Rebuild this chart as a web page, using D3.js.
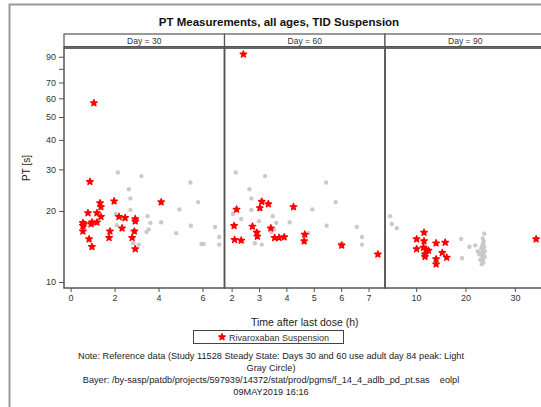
<!DOCTYPE html>
<html>
<head>
<meta charset="utf-8">
<script src="https://cdn.jsdelivr.net/npm/d3@7/dist/d3.min.js"></script>
<style>
  html, body { margin: 0; padding: 0; background: #fff; }
  svg { display: block; font-family: "Liberation Sans", Arial, sans-serif; }
  .foot { white-space: pre; }
</style>
</head>
<body>
<svg id="chart" width="541" height="407"></svg>
<script>
// ---- data ----------------------------------------------------------------
const panelLabels = ["Day = 30", "Day = 60", "Day = 90"];
const xTicks30 = [0, 2, 4, 6];
const xTicks60 = [2, 3, 4, 5, 6, 7];
const xTicks90 = [10, 20, 30];
const yTicks = [10, 20, 30, 40, 50, 60, 70, 80, 90];
const yTickLabels = ["10", "20", "30", "40", "50", "60", "70", "", "90"];

// Rivaroxaban suspension: [time after last dose (h), PT (s)]
const rivaDay30 = [
  [1.06, 57.3], [0.88, 26.6], [0.56, 17.8], [0.56, 17.3], [0.56, 16.4], [0.6, 17.6],
  [0.79, 19.6], [0.93, 17.6], [0.97, 17.9], [0.84, 15.2], [0.97, 14.1], [1.2, 19.6],
  [1.2, 17.9], [1.34, 21.6], [1.38, 20.8], [1.38, 18.9], [1.79, 16.4], [1.75, 15.4],
  [1.98, 22.0], [2.2, 18.9], [2.34, 16.9], [2.48, 18.7], [2.8, 15.4], [2.94, 18.5],
  [2.94, 18.1], [2.9, 16.4], [2.94, 13.8], [4.12, 21.8]
];
const rivaDay60 = [
  [2.43, 92.2], [2.09, 17.3], [2.18, 20.3], [2.11, 15.1], [2.35, 15.0], [2.76, 17.2],
  [2.92, 16.2], [2.94, 15.6], [3.03, 20.6], [3.1, 21.9], [3.34, 21.4], [3.43, 16.9],
  [3.57, 15.4], [3.73, 15.4], [3.92, 15.5], [4.26, 20.8], [4.67, 15.9], [4.65, 14.9],
  [6.02, 14.3], [7.34, 13.1]
];
const rivaDay90 = [
  [10.1, 15.2], [10.1, 13.8], [11.6, 16.2], [11.6, 14.9], [11.5, 14.0], [12.0, 13.7],
  [12.5, 13.6], [11.8, 13.1], [11.8, 12.8], [14.05, 14.6], [14.05, 12.5], [14.05, 11.9],
  [15.9, 14.7], [15.3, 13.3], [16.2, 12.7], [34.3, 15.2]
];

// Reference data (Study 11528 steady state), adult day 84 peak - used for days 30 and 60
const refDay84 = [
  [2.15, 29.1], [3.22, 28.1], [2.65, 24.7], [2.72, 22.6], [2.72, 20.2], [2.05, 19.4],
  [2.35, 18.5], [2.1, 17.4], [3.0, 18.1], [3.5, 19.0], [3.63, 17.8], [3.55, 16.7],
  [3.45, 16.3], [2.92, 16.4], [2.85, 14.6], [3.1, 14.4], [4.12, 17.9], [4.8, 16.1],
  [4.95, 20.3], [5.45, 26.4], [5.8, 21.8], [5.47, 17.3], [5.95, 14.5], [6.05, 14.5],
  [6.57, 17.1], [6.76, 15.5], [6.76, 14.4]
];
// Reference data used for day 90
const refDay90 = [
  [4.73, 19.0], [5.07, 17.6], [6.08, 16.9], [19.1, 15.2], [19.3, 12.6], [20.8, 14.1],
  [22.0, 14.3], [23.8, 16.0], [22.8, 13.1],
  [23.5, 15.3], [23.7, 14.9], [23.6, 14.6], [23.4, 14.3], [23.8, 14.1], [23.2, 13.9],
  [23.5, 13.7], [23.9, 13.5], [23.3, 13.3], [23.6, 13.1], [23.4, 12.9], [23.7, 12.7],
  [23.2, 12.5], [23.5, 12.3], [23.6, 12.1], [23.3, 11.9], [22.9, 13.2], [22.5, 13.5],
  [23.9, 12.8], [23.0, 12.4]
];

const titleText = "PT Measurements, all ages, TID Suspension";
const xLabel = "Time after last dose (h)";
const yLabel = "PT [s]";
const legendLabel = "Rivaroxaban Suspension";
const footnotes = [
  "Note: Reference data (Study 11528 Steady State: Days 30 and 60 use adult day 84 peak: Light",
  "Gray Circle)",
  "Bayer: /by-sasp/patdb/projects/597939/14372/stat/prod/pgms/f_14_4_adlb_pd_pt.sas    eolpl",
  "09MAY2019 16:16"
];

// ---- layout --------------------------------------------------------------
const svg = d3.select("#chart");
const plotTop = 48, plotBottom = 288, headerTop = 34;
const panelW = 160.5, panelLeft = 64;
const axisColor = "#555";
const textColor = "#333";

const panels = [
  { label: panelLabels[0], domain: [-0.3, 7.0], ticks: xTicks30, riva: rivaDay30, ref: refDay84 },
  { label: panelLabels[1], domain: [1.74, 7.6], ticks: xTicks60, riva: rivaDay60, ref: refDay84 },
  { label: panelLabels[2], domain: [3.7, 36.2], ticks: xTicks90, riva: rivaDay90, ref: refDay90 }
];

const y = d3.scaleLog().domain([9.43, 98]).range([plotBottom, plotTop]);

// outer frame
svg.append("path")
  .attr("d", "M9.5,407 L9.5,4.5 L541,4.5")
  .attr("fill", "none").attr("stroke", "#9a9a9a").attr("stroke-width", 2);

// title
svg.append("text")
  .attr("x", 279).attr("y", 26)
  .attr("text-anchor", "middle")
  .attr("font-size", 11.5).attr("font-weight", "bold").attr("fill", "#111")
  .text(titleText);

const star = d3.symbol().type(d3.symbolStar).size(13);
const circle = d3.symbol().type(d3.symbolCircle).size(15);

panels.forEach((p, i) => {
  const x0 = panelLeft + i * panelW, x1 = x0 + panelW;
  const x = d3.scaleLinear().domain(p.domain).range([x0, x1]);
  const g = svg.append("g");

  // header strip
  g.append("rect")
    .attr("x", x0).attr("y", headerTop).attr("width", panelW).attr("height", plotTop - headerTop)
    .attr("fill", "#fff").attr("stroke", axisColor).attr("stroke-width", 1.2);
  g.append("line")
    .attr("x1", x0).attr("x2", x1).attr("y1", plotTop - 1.5).attr("y2", plotTop - 1.5)
    .attr("stroke", axisColor).attr("stroke-width", 1.2);
  g.append("text")
    .attr("x", (x0 + x1) / 2).attr("y", headerTop + 10)
    .attr("text-anchor", "middle").attr("font-size", 8.5).attr("fill", textColor)
    .text(p.label);

  // reference points (light gray circles)
  g.append("g").selectAll("path").data(p.ref).join("path")
    .attr("d", circle)
    .attr("transform", d => `translate(${x(d[0])},${y(d[1])})`)
    .attr("fill", "#cacaca");

  // rivaroxaban points (red stars)
  g.append("g").selectAll("path").data(p.riva).join("path")
    .attr("d", star)
    .attr("transform", d => `translate(${x(d[0])},${y(d[1])})`)
    .attr("fill", "#ff0000").attr("stroke", "#ff0000").attr("stroke-width", 1.4)
    .attr("stroke-linejoin", "round");

  // panel border
  g.append("rect")
    .attr("x", x0).attr("y", plotTop).attr("width", panelW).attr("height", plotBottom - plotTop)
    .attr("fill", "none").attr("stroke", axisColor).attr("stroke-width", 1.5);

  // x axis
  const xa = g.append("g")
    .attr("transform", `translate(0,${plotBottom})`)
    .call(d3.axisBottom(x).tickValues(p.ticks).tickSize(4).tickPadding(3).tickFormat(d3.format("d")));
  xa.select(".domain").remove();
  xa.selectAll("line").attr("stroke", axisColor);
  xa.selectAll("text").attr("font-size", 9).attr("fill", textColor).attr("font-family", null);
});

// y axis
const ya = svg.append("g")
  .attr("transform", `translate(${panelLeft},0)`)
  .call(d3.axisLeft(y).tickValues(yTicks).tickSize(5).tickPadding(3)
    .tickFormat((d, i) => yTickLabels[i]));
ya.select(".domain").remove();
ya.selectAll("line").attr("stroke", axisColor);
ya.selectAll("text").attr("font-size", 9).attr("fill", textColor).attr("font-family", null);

// axis titles
svg.append("text")
  .attr("x", panelLeft + 1.5 * panelW).attr("y", 326)
  .attr("text-anchor", "middle").attr("font-size", 10.5).attr("fill", "#222")
  .text(xLabel);
svg.append("text")
  .attr("transform", `translate(30,${(plotTop + plotBottom) / 2}) rotate(-90)`)
  .attr("text-anchor", "middle").attr("font-size", 10).attr("fill", "#222")
  .text(yLabel);

// legend
const lg = svg.append("g");
lg.append("rect")
  .attr("x", 193.5).attr("y", 330.5).attr("width", 150).attr("height", 13)
  .attr("fill", "#fff").attr("stroke", "#444").attr("stroke-width", 1);
lg.append("path").attr("d", star).attr("transform", "translate(222,337)")
  .attr("fill", "#ff0000").attr("stroke", "#ff0000").attr("stroke-width", 1.4)
  .attr("stroke-linejoin", "round");
lg.append("text").attr("x", 229).attr("y", 340.5)
  .attr("font-size", 9).attr("fill", textColor).text(legendLabel);

// footnotes
svg.append("g").selectAll("text").data(footnotes).join("text")
  .attr("class", "foot")
  .attr("x", 271).attr("y", (d, i) => 358.5 + i * 12.3)
  .attr("text-anchor", "middle").attr("font-size", 9.2).attr("fill", "#222")
  .text(d => d);
</script>
</body>
</html>
